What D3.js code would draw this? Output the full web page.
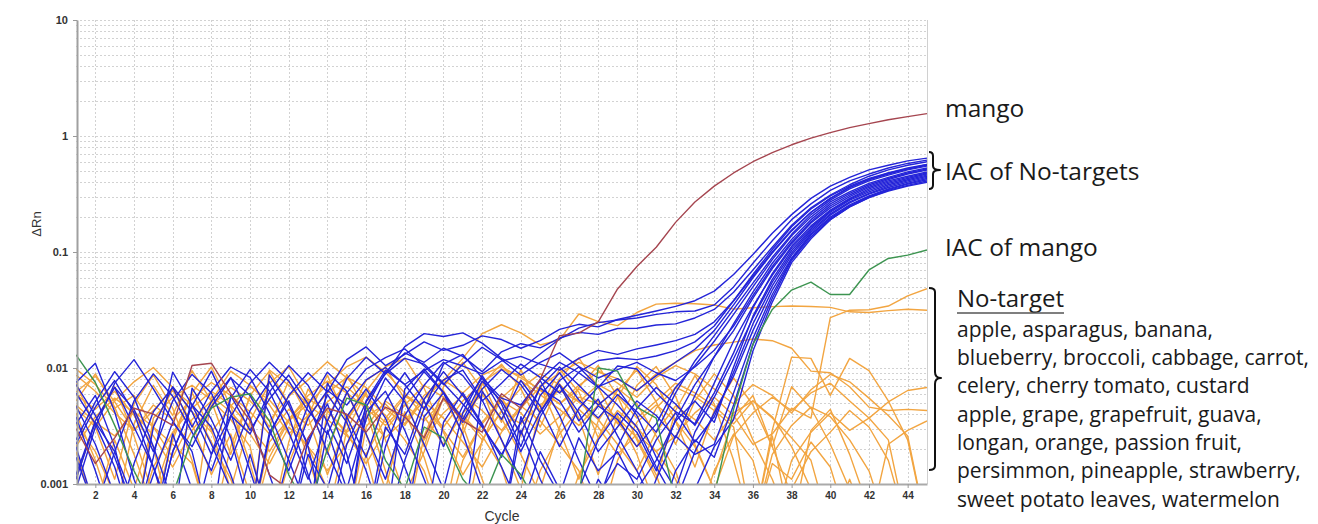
<!DOCTYPE html>
<html><head><meta charset="utf-8">
<script src="https://cdn.jsdelivr.net/npm/d3@7"></script>
<style>body{margin:0;background:#fff}svg{display:block}</style>
</head><body>
<svg id="chart" width="1318" height="524"></svg>
<script>
// ---------- data ----------
const cycles = [1,2,3,4,5,6,7,8,9,10,11,12,13,14,15,16,17,18,19,20,21,22,23,24,25,26,27,28,29,30,31,32,33,34,35,36,37,38,39,40,41,42,43,44,45];
const xTickValues = [2,4,6,8,10,12,14,16,18,20,22,24,26,28,30,32,34,36,38,40,42,44];
const yTickValues = [0.001,0.01,0.1,1,10];
const yTickLabels = ["0.001","0.01","0.1","1","10"];

const mango = [.003,.0015,.0025,.0045,.004,.0032,.0105,.011,.006,.0035,.0012,.0009,.0025,.0045,.004,.0028,.0046,.0038,.0025,.0055,.0035,.0028,.006,.0045,.008,
  .019,.02,.025,.048,.075,.11,.18,.27,.37,.48,.6,.72,.84,.96,1.07,1.18,1.28,1.38,1.47,1.56];

const iacMango = [.013,.0075,.0032,.0013,.0006,.0008,.0025,.0045,.0056,.006,.0035,.0012,.0006,.002,.0055,.0048,.0016,.0009,.0031,.0025,.0011,.0007,.0018,.0012,.0006,.0009,.0008,.01,.0094,.0046,
  .0037,.0007,null,.0008,.0044,.016,.032,.047,.055,.043,.043,.07,.088,.094,.104];

const iacNoTarget = [
 [.0075,.011,.0042,.0011,.0004,.0019,.0048,.0031,.0012,.0004,.0026,.0058,.0091,.0062,.0118,.0152,.0105,.0131,.0168,.0142,.0157,.0189,.0176,.0148,.0172,.0215,.0238,.0226,.0262,.0285,.031,.034,.038,.046,.064,.095,.145,.21,.29,.37,.44,.51,.56,.61,.645],
 [.0047,.0022,.0008,.0004,.0031,.0069,.0042,.0018,.0055,.0097,.0063,.0028,.0011,.0035,.0081,.0124,.0089,.0153,.0198,.0187,.0201,.0164,.0121,.0098,.0132,.0178,.0221,.0246,.0259,.027,.029,.0305,.031,.035,.05,.08,.125,.19,.26,.34,.41,.47,.53,.58,.62],
 [.0024,.0051,.0093,.0056,.0021,.0007,.0004,.0018,.0039,.0027,.0062,.0105,.0071,.0034,.0015,.0046,.0092,.0135,.0112,.0148,.0126,.0093,.0138,.0162,.0149,.0181,.0203,.0195,.0219,.022,.0235,.024,.027,.032,.045,.07,.11,.17,.24,.31,.38,.45,.51,.56,.60],
 [.0061,.0033,.0014,.0004,.0012,.0034,.0021,.0046,.0082,.0058,.0029,.0013,.0037,.0064,.0048,.0079,.0101,.0072,.0095,.0118,.0104,.0089,.0115,.0126,.0108,.0096,.0121,.0142,.0131,.0146,.0158,.0172,.0195,.025,.038,.062,.1,.155,.22,.29,.36,.42,.48,.53,.57],
 [.0012,.0035,.0068,.0044,.0019,.0052,.0088,.0061,.0025,.0006,.0004,.0017,.0048,.0092,.0063,.0027,.0011,.0039,.0071,.0112,.0086,.0052,.0074,.0108,.0083,.0061,.0092,.0116,.0122,.0118,.0127,.0141,.0168,.023,.038,.064,.105,.165,.235,.305,.37,.43,.48,.52,.56],
 [.0072,.0039,.0017,.0006,.0004,null,.0025,.0051,.0083,.0037,.0012,.0004,.0024,.0049,.0018,.0004,.0021,.0056,.0093,.0061,.0034,.0066,.0097,.0072,.0041,.0078,.0102,.0069,.0081,.0064,.0086,.0112,.0145,.021,.035,.06,.098,.152,.22,.29,.36,.42,.47,.52,.57],
 [.0009,.0031,.0074,.0118,.0066,.0035,.0019,.0004,null,null,null,null,.0004,.0029,.0009,.0036,.0082,.0051,.0022,.0009,.0041,.0086,.0049,.0021,.0058,.0091,.0053,.0037,.0059,.0042,.0028,.0061,.0115,.019,.032,.054,.09,.142,.21,.28,.35,.41,.46,.51,.55],
 [.0038,.0013,.0004,.0015,.0042,.0068,.0031,.0063,.0102,.0083,.0041,.0016,.0006,.0004,.0022,.0051,.0089,.0121,.0108,.0074,.0049,.0031,.0018,.0034,.0067,.0052,.0028,.0047,.0036,.0021,.0033,.0068,.0105,.017,.029,.05,.086,.138,.2,.27,.33,.39,.44,.49,.53],
 [null,null,null,null,.0004,.0027,.0009,.0004,null,.0004,.0087,.0048,.0022,.0059,.0034,.0013,.0004,.0016,.0045,.0079,.0096,.0053,.0024,.0011,.0038,.0072,.0041,.0019,.0031,.0052,.0039,.0025,.0058,.0125,.024,.045,.08,.128,.19,.26,.32,.38,.43,.48,.52],
 [.0021,.0006,.0019,.0052,.0089,.0057,.0028,.0013,.0038,.0074,.0112,.0077,.0043,.0027,.0061,.0098,.0123,.0146,.0104,.0072,.0108,.0151,.0118,.0087,.0112,.0135,.0103,.0082,.0097,.0112,.0091,.0078,.0102,.0142,.023,.042,.075,.122,.182,.25,.31,.37,.42,.47,.51],
 [null,null,.0068,.0031,.0014,.0004,null,null,null,.0004,.0028,.0052,.0021,.0004,null,null,null,.0004,.0038,.0061,.0027,.0009,.0004,null,null,null,.0009,.0024,.0041,.0028,.0013,.0036,.0072,.0125,.021,.04,.072,.118,.178,.24,.3,.36,.41,.45,.49],
 [.0033,.0058,.0021,.0004,null,null,null,null,.0004,.0018,.0005,null,null,null,null,.0004,.0031,.0018,.0054,.0093,.0058,.0032,.0017,.0046,.0078,.0039,.0016,.0007,.0021,.0045,.0068,.0049,.0032,.0061,.0135,.033,.065,.112,.168,.23,.29,.35,.4,.44,.48],
 [null,null,null,null,.0004,.0019,.0047,.0094,.0041,.0013,.0004,null,null,null,.0004,.0052,.0096,.0072,.0044,.0108,.0131,.0082,.0055,.0048,.0079,.0112,.0091,.0068,.0104,.0098,.0061,.0042,.0033,.0074,.017,.034,.063,.108,.163,.225,.285,.34,.39,.43,.47],
 [.0017,.0006,null,null,null,null,null,null,null,null,null,.0004,.0018,.0009,.0038,.0066,.0037,.0014,.0005,null,null,null,.0004,.0038,.0016,.0008,.0025,.0013,.0019,.0009,.0016,.0035,.0052,.0034,.0102,.028,.058,.103,.158,.22,.28,.33,.38,.42,.46],
 [null,null,null,.0004,.0017,.0092,.0048,.0022,.0009,.0004,null,null,null,null,null,null,.0004,.0066,.0098,.0062,.0036,.0077,.0052,.0027,.0069,.0102,.0071,.0048,.0066,.0039,.0017,.0009,.0028,.0056,.012,.027,.055,.098,.153,.213,.27,.32,.37,.41,.45],
 [.0022,.0046,.0078,.0041,.0014,.0005,null,null,null,null,null,null,null,null,null,null,null,null,.0004,.0034,.0061,.0033,.0014,.0006,.0019,.0009,.0004,.0008,.0015,.0011,.0024,.0041,.0023,.0038,.0092,.024,.051,.094,.148,.208,.265,.315,.36,.4,.44],
 [null,null,null,null,null,null,null,.0004,.0058,.0029,.0054,.0087,.0049,.0019,.0008,.0004,null,null,null,null,.0004,.0063,.0036,.0078,.0047,.0021,.0045,.0069,.0048,.0031,.0014,.0007,.0019,.0041,.0085,.021,.047,.089,.143,.2,.255,.305,.35,.39,.43],
 [.0011,.0034,.0019,.0007,.0004,null,null,null,null,null,null,null,null,null,.0004,.0042,.0063,.0029,.0011,.0004,null,null,null,null,null,null,.0004,.0011,.0006,.0004,.0011,.0026,.0018,.0022,.0061,.018,.043,.087,.14,.195,.25,.3,.345,.385,.42],
 [null,null,null,null,null,.0004,.0067,.0036,.0016,.0043,.0076,.0039,.0012,.0004,null,null,null,null,null,null,null,null,.0004,.0029,.0011,.0005,.0004,.0004,.0008,.0006,.0004,.0013,.0024,.0017,.0048,.016,.04,.085,.135,.19,.245,.295,.34,.375,.41],
 [null,null,null,null,null,null,null,null,null,null,null,null,.0004,.0074,.0038,.0017,.0053,.0091,.0052,.0021,.0047,.0082,.0043,.0019,.0042,.0071,.0035,.0054,.0026,.0013,.0006,.0004,.0009,.0021,.0036,.014,.037,.081,.13,.19,.245,.295,.335,.37,.40]
];

const noTarget = [
 [.0098,.0072,.0045,.0058,.0031,.0017,.0036,.0052,.0094,.0071,.0048,.0027,.0039,.0061,.0083,.0068,.0045,.0032,.0054,.0078,.0121,.0198,.0236,.0201,.0158,.0175,.0292,.0251,.0232,.0301,.0355,.0362,.0358,.0349,.0322,.0331,.0338,.0342,.0339,.0333,.0305,.0301,.0312,.0321,.0315],
 [.0062,.0085,.0051,.0029,.0043,.0066,.0048,.0023,.0011,.0004,.0017,.0035,.0049,.0072,.0103,.0124,.0092,.0061,.0038,.0022,.0041,.0059,.0037,.0018,.0008,.0004,.0012,.0025,.0043,.0031,.0019,.0026,.0041,.0056,.0039,.0022,.0027,.0045,.0037,.0272,.0315,.0318,.0342,.0418,.0482],
 [.0045,.0031,.0052,.0076,.0101,.0068,.0042,.0028,.0047,.0069,.0053,.0034,.0021,.0009,.0004,.0018,.0037,.0059,.0046,.0031,.0052,.0075,.0098,.0086,.0064,.0049,.0071,.0092,.0081,.0063,.0089,.0112,.0141,.0158,.0167,.0178,.0172,.0148,.0094,.0091,.0069,.0046,.0043,.0044,.0043],
 [.0021,.0038,.0055,.0041,.0026,.0014,.0029,.0047,.0068,.0052,.0035,.0057,.0079,.0113,.0082,.0057,.0039,.0024,.0013,.0004,.0016,.0033,.0052,.0041,.0027,.0038,.0056,.0049,.0034,.0021,.0045,.0068,.0057,.0043,.0031,.0004,.0029,.0124,.0121,.0058,.0121,.0095,.0052,.0024,.0004],
 [.0033,.0019,.0008,.0004,.0014,.0028,.0045,.0063,.0048,.0031,.0019,.0036,.0054,.0043,.0027,.0015,.0029,.0048,.0071,.0056,.0038,.0024,.0043,.0067,.0089,.0072,.0051,.0036,.0022,.0013,.0028,.0047,.0036,.0024,.0041,.0052,.0038,.0021,.0009,.0004,.0011,.0004,.0022,.0029,.0035],
 [.0074,.0031,.0011,.0049,.0087,.0045,.0016,.0004,.0021,.0057,.0031,.0078,.0038,.0012,.0034,.0078,.0101,.0054,.0021,.0069,.0112,.0065,.0024,.0009,.0044,.0098,.0062,.0025,.0056,.0103,.0072,.0035,.0014,.0043,.0082,.0048,.0021,.0069,.0045,.0022,.0009,.0004,null,null,null],
 [.0052,.0089,.0046,.0018,.0006,.0024,.0061,.0102,.0047,.0015,.0004,.0023,.0066,.0035,.0088,.0042,.0013,.0004,.0026,.0064,.0032,.0011,.0004,null,.0009,.0031,.0068,.0105,.0057,.0024,.0011,.0043,.0086,.0049,.0016,.0004,.0026,.0004,null,null,null,null,null,null,null],
 [.0087,.0063,.0041,.0029,.0048,.0036,.0054,.0075,.0058,.0042,.0027,.0044,.0032,.0051,.0069,.0048,.0034,.0057,.0046,.0029,.0017,.0034,.0055,.0078,.0059,.0044,.0032,.0048,.0067,.0049,.0026,.0013,.0004,null,null,.0004,.0018,.0032,.0046,.0038,.0024,.0013,.0004,null,null],
 [null,null,null,.0004,.0037,.0056,.0071,.0053,.0036,.0021,.0004,null,null,null,.0004,.0031,.0052,.0039,.0024,.0041,.0058,.0043,.0029,.0047,.0035,.0022,.0013,.0004,.0016,.0034,.0048,.0035,.0021,.0009,.0026,.0041,.0056,.0043,.0061,.0074,.0052,.0037,.0024,.0004,null],
 [.0041,.0016,.0005,.0033,.0071,.0039,.0095,.0052,.0018,.0058,.0094,.0049,.0017,.0005,.0029,.0061,.0024,.0008,.0019,.0056,.0027,.0073,.0108,.0066,.0031,.0073,.0037,.0012,.0039,.0018,.0006,.0004,null,.0012,.0037,.0058,.0021,.0008,.0004,null,null,null,null,null,null],
 [.0059,.0044,.0063,.0039,.0021,.0004,null,null,null,.0004,.0096,.0071,.0048,.0036,.0026,.0018,.0004,null,null,null,.0004,.0024,.0042,.0033,.0048,.0064,.0051,.0072,.0058,.0037,.0052,.0074,.0061,.0047,.0033,.0052,.0037,.0025,.0016,.0004,null,null,null,null,null],
 [.0019,.0006,.0024,.0009,.0032,.0065,.0033,.0012,.0027,.0008,.0004,.0015,.0039,.0087,.0035,.0063,.0103,.0121,.0067,.0028,.0012,.0023,.0057,.0026,.0071,.0029,.0011,.0035,.0064,.0096,.0051,.0022,.0052,.0089,.0058,.0024,.0011,.0004,.0029,.0044,.0018,.0006,.0004,null,null],
 [null,null,null,null,null,null,.0004,.0057,.0042,.0027,.0015,.0031,.0021,.0013,.0022,.0038,.0049,.0033,.0058,.0079,.0061,.0087,.0103,.0082,.0065,.0049,.0066,.0051,.0037,.0025,.0012,.0004,null,null,null,null,.0004,.0016,.0028,.0041,.0029,.0037,.0051,.0064,.0068],
 [.0011,.0035,.0069,.0026,.0008,.0026,.0061,.0029,.0009,.0035,.0074,.0103,.0052,.0018,.0062,.0027,.0009,.0042,.0017,.0005,.0031,.0076,.0034,.0097,.0042,.0081,.0122,.0068,.0033,.0071,.0103,.0057,.0022,.0009,.0004,.0004,.0015,.0011,.0023,.0014,.0004,null,null,null,null],
 [.0048,.0034,.0026,.0042,.0031,.0022,.0015,.0004,null,null,null,null,.0004,.0043,.0028,.0039,.0025,.0036,.0051,.0037,.0023,.0014,.0028,.0045,.0069,.0091,.0112,.0095,.0074,.0056,.0083,.0105,.0089,.0066,.0049,.0072,.0058,.0041,.0065,.0088,.0076,.0055,.0039,.0026,.0004],
 [null,null,null,null,null,null,null,null,null,.0004,.0023,.0036,.0058,.0077,.0061,.0045,.0032,.0048,.0035,.0053,.0039,.0026,.0014,.0004,.0013,.0027,.0044,.0031,.0018,.0027,.0019,.0011,.0004,.0013,.0027,.0016,.0004,.0009,.0019,.0028,.0043,.0031,.0016,.0004,null]
];

const noTargetList = ["apple, asparagus, banana,","blueberry, broccoli, cabbage, carrot,","celery, cherry tomato, custard","apple, grape, grapefruit, guava,","longan, orange, passion fruit,","persimmon, pineapple, strawberry,","sweet potato leaves, watermelon"];

// ---------- chart ----------
const svg = d3.select("#chart");
const L = 76, R = 927, T = 20, B = 484;
const x = d3.scaleLinear().domain([1,45]).range([L,R]);
const y = d3.scaleLog().domain([0.001,10]).range([B,T]);

svg.append("defs").append("clipPath").attr("id","plotClip")
  .append("rect").attr("x",L).attr("y",T).attr("width",R-L).attr("height",B-T);

// grid
const grid = svg.append("g").attr("stroke","#d2d2d2").attr("stroke-width",1).attr("stroke-dasharray","2,2");
grid.selectAll("line.h").data(y.ticks()).join("line").attr("class","h")
  .attr("x1",L).attr("x2",R).attr("y1",d=>Math.round(y(d))+0.5).attr("y2",d=>Math.round(y(d))+0.5);
grid.selectAll("line.v").data(xTickValues).join("line").attr("class","v")
  .attr("y1",T).attr("y2",B).attr("x1",d=>Math.round(x(d))+0.5).attr("x2",d=>Math.round(x(d))+0.5);

// right border
svg.append("line").attr("x1",R+0.5).attr("x2",R+0.5).attr("y1",T).attr("y2",B).attr("stroke","#d0d0d0");

// lines
const line = d3.line().defined(d=>d[1]!=null).x(d=>x(d[0])).y(d=>y(d[1]));
const toPts = arr => cycles.map((c,i)=>[c,arr[i]]);
const plot = svg.append("g").attr("clip-path","url(#plotClip)").attr("fill","none").attr("stroke-width",1.4).attr("stroke-linejoin","round");
plot.selectAll("path.nt").data(noTarget).join("path").attr("class","nt")
  .attr("d",d=>line(toPts(d))).attr("stroke","#f2a541");
plot.selectAll("path.iac").data(iacNoTarget).join("path").attr("class","iac")
  .attr("d",d=>line(toPts(d))).attr("stroke","#2424d8");
plot.append("path").attr("d",line(toPts(iacMango))).attr("stroke","#3c9450");
plot.append("path").attr("d",line(toPts(mango))).attr("stroke","#a5454f");

// axes
const xAxis = d3.axisBottom(x).tickValues(xTickValues).tickFormat(d3.format("d")).tickSize(4).tickPadding(4).tickSizeOuter(0);
const gx = svg.append("g").attr("transform",`translate(0,${B})`).call(xAxis);
gx.select(".domain").attr("stroke","#aaaaaa").attr("stroke-width",2);
gx.selectAll(".tick line").attr("stroke","#999");
gx.selectAll("text").attr("font-family","Liberation Sans, Arial, sans-serif").attr("font-size",10).attr("font-weight","bold").attr("fill","#333");

const yAxis = d3.axisLeft(y).tickValues(yTickValues).tickFormat((d,i)=>yTickLabels[i]).tickSize(4).tickPadding(5).tickSizeOuter(0);
const gy = svg.append("g").attr("transform",`translate(${L+1},0)`).call(yAxis);
gy.select(".domain").attr("stroke","#a0a0a0").attr("stroke-width",2);
gy.selectAll(".tick line").attr("stroke","#999");
gy.selectAll("text").attr("font-family","Liberation Sans, Arial, sans-serif").attr("font-size",11).attr("font-weight","bold").attr("fill","#333");

svg.append("text").attr("x",502).attr("y",521).attr("text-anchor","middle")
  .attr("font-family","Liberation Sans, Arial, sans-serif").attr("font-size",14).attr("fill","#333").text("Cycle");
svg.append("text").attr("transform","translate(41,224) rotate(-90)").attr("text-anchor","middle")
  .attr("font-family","Liberation Sans, Arial, sans-serif").attr("font-size",13).attr("fill","#333").text("ΔRn");

// annotations
const ann = svg.append("g").attr("font-family","'Open Sans', Lato, sans-serif").attr("fill","#1a1a1a");
ann.append("text").attr("x",945).attr("y",117).attr("font-size",24.5).text("mango");
ann.append("text").attr("x",945).attr("y",180).attr("font-size",24.5).text("IAC of No-targets");
ann.append("text").attr("x",945).attr("y",256).attr("font-size",24.5).text("IAC of mango");
const nt = ann.append("text").attr("x",957).attr("y",307).attr("font-size",24).text("No-target");
const ntw = nt.node().getComputedTextLength();
ann.append("line").attr("x1",957).attr("x2",957+ntw).attr("y1",313).attr("y2",313).attr("stroke","#555").attr("stroke-width",1.5);
ann.selectAll("text.item").data(noTargetList).join("text").attr("class","item")
  .attr("x",957).attr("y",(d,i)=>336.7+i*28.33).attr("font-size",21).text(d=>d);

// brackets
const br = svg.append("g").attr("fill","none").attr("stroke","#111").attr("stroke-width",2).attr("stroke-linejoin","round");
br.append("path").attr("d","M929,152 Q933,152 933,156 L933,166 Q933,170 940,170 Q933,170 933,174 L933,185 Q933,189 929,189");
br.append("path").attr("d","M929,288 Q935,288 935,292 L935,372 Q935,378 941,378 Q935,378 935,384 L935,466 Q935,470 929,470");
</script>
</body></html>
